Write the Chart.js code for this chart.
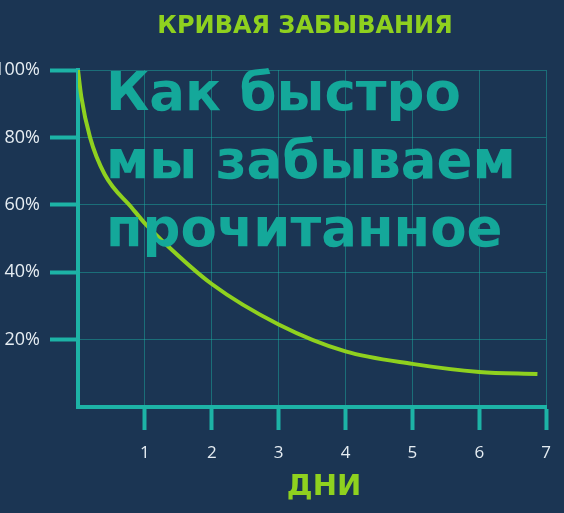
<!DOCTYPE html>
<html>
<head>
<meta charset="utf-8">
<script src="https://cdn.jsdelivr.net/npm/chart.js@4"></script>
<style>
  body { margin:0; background:#1b3553; width:564px; height:513px; overflow:hidden; position:relative; font-family:"Open Sans", sans-serif; }
  #wrap { position:absolute; left:-12px; top:0; width:576px; height:513px; }
  .title { position:absolute; top:11px; left:0; width:610px; text-align:center; color:#8fd11f; font-family:"DejaVu Sans", sans-serif; font-weight:bold; font-size:24px; }
  .axisname { position:absolute; top:468px; left:0; width:648px; text-align:center; color:#8fd11f; font-family:"DejaVu Sans", sans-serif; font-weight:bold; font-size:29px; }
  .overlay { position:absolute; left:106px; top:58px; color:#14a89a; font-family:"DejaVu Sans", sans-serif; font-weight:bold; font-size:53px; line-height:68px; white-space:nowrap; }
</style>
</head>
<body>
<div id="wrap"><canvas id="curve" width="576" height="513"></canvas></div>
<div class="title">КРИВАЯ ЗАБЫВАНИЯ</div>
<div class="overlay">Как быстро<br>мы забываем<br>прочитанное</div>
<div class="axisname">ДНИ</div>
<script>
// days since reading and share remembered, %
const days = [0, 0.05, 0.18, 0.4, 0.81, 1, 1.25, 2, 3, 4, 5, 6, 6.87];
const memory = [100, 92, 80, 69, 59, 54.5, 49.5, 36.5, 24.5, 16.5, 12.8, 10.4, 9.8];
const yTicks = [20, 40, 60, 80, 100];
const xTicks = [1, 2, 3, 4, 5, 6, 7];

const teal = '#1db3a6';
const points = days.map((d, i) => ({x: d, y: memory[i]}));

new Chart(document.getElementById('curve'), {
  type: 'line',
  data: {
    datasets: [{
      data: points,
      borderColor: '#8fd11f',
      borderWidth: 4,
      pointRadius: 0,
      cubicInterpolationMode: 'monotone',
      fill: false
    }]
  },
  options: {
    responsive: false,
    animation: false,
    layout: { padding: { top: 70, right: 9, left: 0, bottom: 0 } },
    plugins: { legend: { display: false }, tooltip: { enabled: false } },
    scales: {
      x: {
        type: 'linear', min: 0, max: 7,
        afterBuildTicks: s => { s.ticks = xTicks.map(v => ({value: v})); },
        afterFit: s => { s.height = 106; },
        grid: { color: 'rgba(29,179,166,0.45)', lineWidth: 1, tickLength: 23, tickColor: teal, tickWidth: 4 },
        border: { color: teal, width: 4 },
        ticks: { color: '#e6edf2', font: { family: 'Open Sans', size: 17 }, padding: 13, maxRotation: 0 }
      },
      y: {
        min: 0, max: 100,
        afterBuildTicks: s => { s.ticks = yTicks.map(v => ({value: v})); },
        afterFit: s => { s.width = 90; },
        grid: { color: 'rgba(29,179,166,0.45)', lineWidth: 1, tickLength: 28, tickColor: teal, tickWidth: 4 },
        border: { color: teal, width: 4 },
        ticks: { color: '#e6edf2', font: { family: 'Open Sans', size: 18 }, padding: 10, callback: v => v + '%' }
      }
    }
  }
});
</script>
</body>
</html>
